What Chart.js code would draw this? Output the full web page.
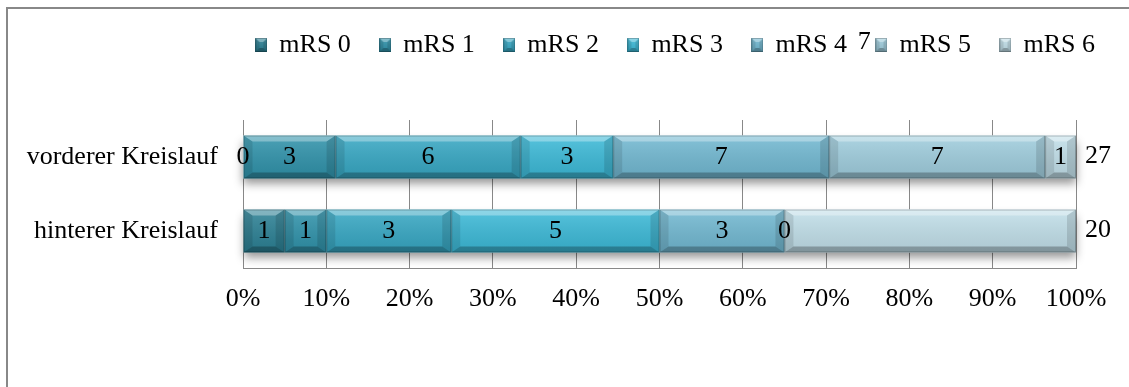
<!DOCTYPE html>
<html>
<head>
<meta charset="utf-8">
<title>mRS nach Kreislauf</title>
<script src="https://cdn.jsdelivr.net/npm/chart.js@4.4.1/dist/chart.umd.min.js"></script>
<style>
  html, body { margin: 0; padding: 0; background: #fff; }
  canvas { display: block; }
</style>
</head>
<body>
<canvas id="chart" width="1129" height="387"></canvas>
<script>
// Patients per modified Rankin Scale grade, by circulation territory
const categories = ['vorderer Kreislauf', 'hinterer Kreislauf'];
const seriesNames = ['mRS 0', 'mRS 1', 'mRS 2', 'mRS 3', 'mRS 4', 'mRS 5', 'mRS 6'];
const mrs0 = [0, 1];
const mrs1 = [3, 1];
const mrs2 = [6, 3];
const mrs3 = [3, 5];
const mrs4 = [7, 3];
const mrs5 = [7, 0];
const mrs6 = [1, 7];
const tickLabels = ['0%', '10%', '20%', '30%', '40%', '50%', '60%', '70%', '80%', '90%', '100%'];

const counts = [mrs0, mrs1, mrs2, mrs3, mrs4, mrs5, mrs6];
const totals = categories.map((_, i) => counts.reduce((s, c) => s + c[i], 0));

// styling
const colors = ['#2c8195', '#3093ab', '#37a8c4', '#3cbad8', '#72b9d2', '#a0cede', '#c2e0ea'];
const FONT = 'Liberation Serif';
const GRID = '#888888';
// label displaced into the legend row (hinterer Kreislauf, mRS 6)
const labelNudges = { '6:1': [-66, -189] };

Chart.defaults.font.family = FONT;
Chart.defaults.font.size = 26;
Chart.defaults.color = '#000';

// beveled block: side bevels bx wide, top/bottom bevels by high
function bevel(ctx, x0, y0, x1, y1, bx, by) {
  const w = x1 - x0, h = y1 - y0;
  bx = Math.min(bx, w / 2);
  by = Math.min(by, h / 2);
  if (bx <= 0 || by <= 0) return;
  const poly = (pts, fill) => {
    ctx.beginPath();
    ctx.moveTo(pts[0][0], pts[0][1]);
    for (let k = 1; k < pts.length; k++) ctx.lineTo(pts[k][0], pts[k][1]);
    ctx.closePath();
    ctx.fillStyle = fill;
    ctx.fill();
  };
  const g = ctx.createLinearGradient(0, y0, 0, y1);
  g.addColorStop(0, 'rgba(255,255,255,0.14)');
  g.addColorStop(1, 'rgba(0,0,0,0.10)');
  ctx.fillStyle = g;
  ctx.fillRect(x0, y0, w, h);
  poly([[x0, y0], [x1, y0], [x1 - bx, y0 + by], [x0 + bx, y0 + by]], 'rgba(255,255,255,0.32)');
  poly([[x0, y1], [x1, y1], [x1 - bx, y1 - by], [x0 + bx, y1 - by]], 'rgba(0,0,0,0.26)');
  poly([[x0, y0], [x0 + bx, y0 + by], [x0 + bx, y1 - by], [x0, y1]], 'rgba(0,0,0,0.10)');
  poly([[x1, y0], [x1 - bx, y0 + by], [x1 - bx, y1 - by], [x1, y1]], 'rgba(0,0,0,0.12)');
  ctx.strokeStyle = 'rgba(0,0,0,0.22)';
  ctx.lineWidth = 1;
  ctx.strokeRect(x0 + 0.5, y0 + 0.5, w - 1, h - 1);
}

// small beveled squares for the legend
const markers = colors.map(c => {
  const cv = document.createElement('canvas');
  cv.width = 12; cv.height = 14;
  const cx = cv.getContext('2d');
  cx.fillStyle = c;
  cx.fillRect(0, 0, 12, 14);
  bevel(cx, 0, 0, 12, 14, 4, 4);
  return cv;
});

const datasets = counts.map((c, d) => ({
  label: seriesNames[d],
  counts: c,
  data: c.map((v, i) => v / totals[i] * 100),
  backgroundColor: colors[d],
  borderWidth: 0,
  barPercentage: 0.58,
  categoryPercentage: 1
}));

const framePlugin = {
  id: 'frame',
  beforeDraw(chart) {
    const ctx = chart.ctx;
    ctx.save();
    ctx.fillStyle = '#fff';
    ctx.fillRect(0, 0, chart.width, chart.height);
    ctx.strokeStyle = GRID;
    ctx.lineWidth = 2;
    ctx.beginPath();
    ctx.moveTo(7, chart.height);
    ctx.lineTo(7, 8);
    ctx.lineTo(chart.width, 8);
    ctx.stroke();
    ctx.restore();
  }
};

const barPlugin = {
  id: 'beveledBars',
  beforeDatasetsDraw(chart) {
    // soft drop shadow under each stacked row
    const ctx = chart.ctx;
    const metas = chart.getSortedVisibleDatasetMetas();
    categories.forEach((_, i) => {
      let left = Infinity, right = -Infinity, top = 0, bottom = 0;
      metas.forEach(m => {
        const el = m.data[i];
        left = Math.min(left, el.base, el.x);
        right = Math.max(right, el.base, el.x);
        top = el.y - el.height / 2;
        bottom = el.y + el.height / 2;
      });
      ctx.save();
      ctx.shadowColor = 'rgba(0,0,0,0.42)';
      ctx.shadowBlur = 9;
      ctx.shadowOffsetY = 6;
      ctx.fillStyle = '#fff';
      ctx.fillRect(left, top, right - left, bottom - top);
      ctx.restore();
    });
  },
  afterDatasetsDraw(chart) {
    const ctx = chart.ctx;
    ctx.save();
    chart.getSortedVisibleDatasetMetas().forEach(m => {
      m.data.forEach(el => {
        const x0 = Math.min(el.base, el.x), x1 = Math.max(el.base, el.x);
        if (x1 - x0 < 1) return;
        bevel(ctx, x0, el.y - el.height / 2, x1, el.y + el.height / 2, 9, 6);
      });
    });
    // value labels
    ctx.font = '26px "' + FONT + '"';
    ctx.fillStyle = '#000';
    ctx.textAlign = 'center';
    ctx.textBaseline = 'middle';
    chart.data.datasets.forEach((ds, d) => {
      chart.getDatasetMeta(d).data.forEach((el, i) => {
        const n = labelNudges[d + ':' + i] || [0, 0];
        ctx.fillText(String(ds.counts[i]), (el.x + el.base) / 2 + n[0], el.y + n[1]);
      });
    });
    // row totals right of the plot
    ctx.textAlign = 'left';
    const last = chart.getDatasetMeta(chart.data.datasets.length - 1);
    last.data.forEach((el, i) => {
      ctx.fillText(String(totals[i]), chart.chartArea.right + 9, el.y - 1);
    });
    ctx.restore();
  }
};

new Chart(document.getElementById('chart'), {
  type: 'bar',
  data: { labels: categories, datasets },
  options: {
    indexAxis: 'y',
    responsive: false,
    animation: false,
    layout: { padding: { left: 0, right: 4.5, top: 2.5, bottom: 0 } },
    scales: {
      x: {
        type: 'linear', position: 'bottom', stacked: true, min: 0, max: 100,
        ticks: { stepSize: 10, padding: 16, color: '#000', callback: (v, i) => tickLabels[i] },
        grid: { color: GRID, lineWidth: 1, drawTicks: false },
        border: { color: GRID, width: 1 },
        afterFit(s) { s.height = 119; }
      },
      y: {
        type: 'category', stacked: true, offset: true,
        ticks: { padding: 25, color: '#000' },
        grid: { display: false, drawTicks: false },
        border: { display: true, color: GRID, width: 1 },
        afterFit(s) { s.width = 243; }
      },
      xTop: {
        axis: 'x', type: 'linear', position: 'top',
        ticks: { display: false }, grid: { display: false }, border: { display: false },
        afterFit(s) { s.height = 52; }
      },
      yRight: {
        axis: 'y', type: 'linear', position: 'right',
        ticks: { display: false }, grid: { display: false }, border: { display: false },
        afterFit(s) { s.width = 48.5; }
      }
    },
    plugins: {
      legend: {
        position: 'top', align: 'end',
        labels: {
          usePointStyle: true,
          boxWidth: 10,
          padding: 29.5,
          color: '#000',
          font: { family: FONT, size: 26 },
          generateLabels(chart) {
            const items = Chart.defaults.plugins.legend.labels.generateLabels(chart);
            items.forEach((it, i) => { it.pointStyle = markers[i]; it.fontColor = '#000'; });
            return items;
          }
        }
      },
      tooltip: { enabled: false }
    }
  },
  plugins: [framePlugin, barPlugin]
});
</script>
</body>
</html>
